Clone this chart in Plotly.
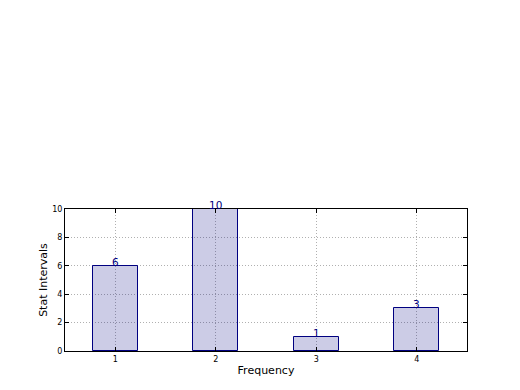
import plotly.graph_objects as go

categories = [1, 2, 3, 4]
values = [6, 10, 1, 3]
value_labels = ["6", "10", "1", "3"]
y_ticks = [0, 2, 4, 6, 8, 10]

fig = go.Figure()
fig.add_trace(go.Bar(
    x=categories, y=values, width=0.45,
    marker=dict(color="rgba(0,0,128,0.2)", line=dict(color="#000080", width=1)),
    hoverinfo="skip",
))

for c, v, t in zip(categories, values, value_labels):
    fig.add_annotation(x=c, y=v, text=t, showarrow=False, yanchor="bottom",
                       yshift=-4, font=dict(family="DejaVu Sans", size=10.5, color="#000080"))

axis_common = dict(
    showline=True, linecolor="black", linewidth=1, mirror="ticks",
    ticks="inside", ticklen=4, tickcolor="black",
    showgrid=True, gridcolor="#b0b0b0", griddash="1px,2px", gridwidth=1,
    zeroline=False, tickfont=dict(family="DejaVu Sans", size=8, color="black"),
)

fig.update_xaxes(range=[0.5, 4.5], tickvals=categories, ticktext=[str(c) for c in categories],
                 title=dict(text="Frequency", font=dict(family="DejaVu Sans", size=11, color="black"), standoff=3),
                 **axis_common)
fig.update_yaxes(range=[0, 10], tickvals=y_ticks,
                 title=dict(text="Stat Intervals", font=dict(family="DejaVu Sans", size=11, color="black"), standoff=2),
                 **axis_common)

fig.update_layout(
    width=520, height=390,
    margin=dict(l=57, r=61, t=201, b=47),
    paper_bgcolor="white", plot_bgcolor="white",
    showlegend=False, bargap=0,
    font=dict(family="DejaVu Sans"),
)

fig.write_html("out.html")
